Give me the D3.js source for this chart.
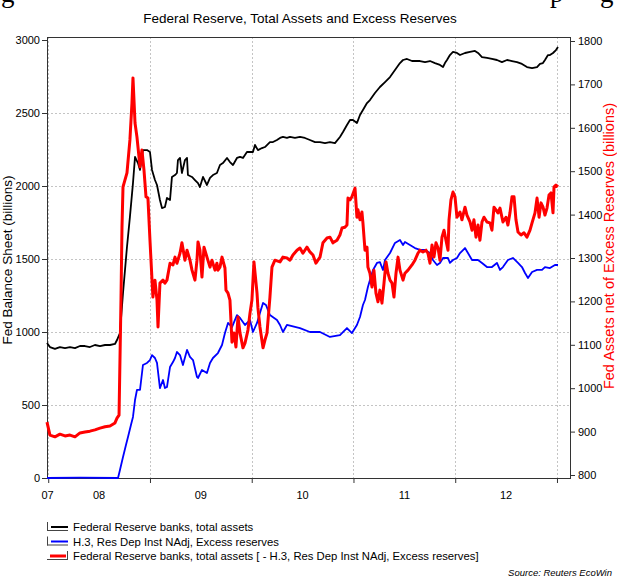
<!DOCTYPE html>
<html>
<head>
<meta charset="utf-8">
<script src="https://cdn.jsdelivr.net/npm/d3@7/dist/d3.min.js"></script>
<style>
  body { margin: 0; background: #fff; }
  text { font-family: "Liberation Sans", Arial, sans-serif; fill: #000; }
  .grid line { stroke: #c4c4c4; stroke-width: 1; stroke-dasharray: 2,2; }
  .axis line { stroke: #333; }
  .axis text { font-size: 11px; }
</style>
</head>
<body>
<div id="chart"></div>
<script>
// Data (time as decimal years, values in billions)
var totalAssets = [
  [2007.988, 925], [2008.017, 897], [2008.066, 884], [2008.115, 897], [2008.165, 890],
  [2008.214, 897], [2008.263, 890], [2008.312, 904], [2008.361, 904], [2008.410, 897],
  [2008.459, 911], [2008.509, 904], [2008.558, 911], [2008.607, 911], [2008.656, 918],
  [2008.676, 945], [2008.705, 993], [2008.735, 1267], [2008.774, 1582], [2008.803, 1788],
  [2008.833, 2020], [2008.853, 2199], [2008.882, 2157], [2008.902, 2110], [2008.931, 2246],
  [2008.971, 2246], [2009.000, 2233], [2009.020, 2110], [2009.049, 2041], [2009.069, 2007],
  [2009.098, 1904], [2009.118, 1849], [2009.147, 1856], [2009.167, 1918], [2009.197, 1904],
  [2009.216, 2062], [2009.246, 2075], [2009.265, 2089], [2009.275, 2178], [2009.295, 2192],
  [2009.314, 2089], [2009.344, 2178], [2009.364, 2192], [2009.373, 2075], [2009.413, 2062],
  [2009.442, 2041], [2009.472, 2020], [2009.491, 1993], [2009.521, 2062], [2009.560, 2007],
  [2009.590, 2055], [2009.619, 2075], [2009.658, 2089], [2009.688, 2144], [2009.717, 2157],
  [2009.757, 2192], [2009.786, 2164], [2009.816, 2144], [2009.855, 2192], [2009.885, 2199],
  [2009.914, 2192], [2009.953, 2233], [2009.983, 2233], [2010.012, 2233], [2010.032, 2281],
  [2010.061, 2246], [2010.101, 2260], [2010.130, 2267], [2010.179, 2301], [2010.209, 2301],
  [2010.248, 2315], [2010.278, 2329], [2010.307, 2336], [2010.346, 2329], [2010.376, 2336],
  [2010.425, 2329], [2010.474, 2336], [2010.523, 2329], [2010.572, 2315], [2010.622, 2301],
  [2010.671, 2301], [2010.720, 2294], [2010.769, 2301], [2010.818, 2294], [2010.867, 2336],
  [2010.897, 2370], [2010.936, 2418], [2010.966, 2452], [2010.995, 2452], [2011.034, 2431],
  [2011.064, 2486], [2011.093, 2520], [2011.133, 2568], [2011.162, 2589], [2011.211, 2637],
  [2011.260, 2678], [2011.310, 2712], [2011.359, 2746], [2011.408, 2794], [2011.457, 2842],
  [2011.487, 2863], [2011.526, 2870], [2011.575, 2856], [2011.654, 2856], [2011.703, 2849],
  [2011.752, 2856], [2011.801, 2842], [2011.850, 2829], [2011.880, 2815], [2011.899, 2842],
  [2011.919, 2863], [2011.948, 2897], [2011.978, 2918], [2012.017, 2911], [2012.047, 2897],
  [2012.096, 2911], [2012.145, 2918], [2012.194, 2925], [2012.224, 2911], [2012.263, 2883],
  [2012.312, 2877], [2012.361, 2870], [2012.410, 2863], [2012.459, 2849], [2012.509, 2863],
  [2012.558, 2856], [2012.607, 2849], [2012.656, 2836], [2012.705, 2815], [2012.755, 2808],
  [2012.804, 2815], [2012.833, 2836], [2012.862, 2842], [2012.882, 2863], [2012.912, 2897],
  [2012.931, 2897], [2012.961, 2911], [2012.990, 2931], [2013.010, 2952]
];

var excessReserves = [
  [2007.988, 0], [2008.312, 2], [2008.686, 0], [2008.705, 55], [2008.735, 144],
  [2008.764, 226], [2008.784, 281], [2008.813, 363], [2008.833, 418], [2008.853, 534],
  [2008.872, 603], [2008.902, 603], [2008.931, 774], [2008.971, 788], [2009.000, 808],
  [2009.020, 842], [2009.049, 822], [2009.069, 788], [2009.098, 616], [2009.128, 671],
  [2009.147, 616], [2009.167, 623], [2009.197, 760], [2009.226, 794], [2009.246, 822],
  [2009.265, 863], [2009.295, 842], [2009.324, 774], [2009.364, 877], [2009.393, 829],
  [2009.423, 808], [2009.462, 692], [2009.472, 685], [2009.511, 740], [2009.560, 719],
  [2009.590, 788], [2009.619, 822], [2009.668, 856], [2009.708, 911], [2009.737, 993],
  [2009.767, 1062], [2009.806, 1034], [2009.855, 1116], [2009.885, 1096], [2009.934, 1048],
  [2009.983, 1082], [2010.012, 1000], [2010.052, 1062], [2010.081, 1130], [2010.111, 1199],
  [2010.140, 1185], [2010.179, 1116], [2010.248, 1082], [2010.278, 1048], [2010.307, 1000],
  [2010.346, 1048], [2010.474, 1027], [2010.572, 1000], [2010.671, 1000], [2010.769, 966],
  [2010.867, 979], [2010.936, 1027], [2010.985, 993], [2011.034, 1048], [2011.064, 1103],
  [2011.093, 1185], [2011.113, 1219], [2011.142, 1308], [2011.162, 1356], [2011.192, 1425],
  [2011.231, 1473], [2011.260, 1479], [2011.290, 1425], [2011.310, 1493], [2011.359, 1541],
  [2011.408, 1610], [2011.457, 1630], [2011.487, 1596], [2011.506, 1616], [2011.555, 1596],
  [2011.604, 1575], [2011.654, 1562], [2011.703, 1562], [2011.752, 1541], [2011.781, 1493],
  [2011.821, 1459], [2011.850, 1473], [2011.880, 1507], [2011.929, 1507], [2011.948, 1473],
  [2011.978, 1493], [2012.017, 1507], [2012.047, 1541], [2012.096, 1575], [2012.125, 1541],
  [2012.165, 1493], [2012.224, 1493], [2012.263, 1473], [2012.312, 1445], [2012.361, 1445],
  [2012.410, 1473], [2012.440, 1425], [2012.469, 1445], [2012.518, 1493], [2012.567, 1507],
  [2012.617, 1473], [2012.656, 1445], [2012.686, 1404], [2012.715, 1370], [2012.755, 1411],
  [2012.804, 1425], [2012.853, 1425], [2012.882, 1445], [2012.931, 1438], [2012.980, 1459],
  [2013.010, 1459]
];

var netAssets = [
  [2007.988, 922], [2008.017, 892], [2008.066, 888], [2008.115, 894], [2008.165, 890],
  [2008.214, 892], [2008.263, 888], [2008.312, 897], [2008.361, 899], [2008.410, 901],
  [2008.459, 904], [2008.509, 908], [2008.558, 911], [2008.607, 913], [2008.656, 920],
  [2008.676, 931], [2008.696, 938], [2008.715, 1203], [2008.725, 1371], [2008.735, 1464],
  [2008.774, 1496], [2008.803, 1572], [2008.823, 1657], [2008.833, 1715], [2008.853, 1611],
  [2008.872, 1579], [2008.902, 1510], [2008.921, 1549], [2008.941, 1503], [2008.961, 1441],
  [2008.980, 1438], [2009.000, 1341], [2009.020, 1249], [2009.029, 1210], [2009.049, 1249],
  [2009.069, 1203], [2009.079, 1141], [2009.098, 1242], [2009.128, 1249], [2009.147, 1242],
  [2009.167, 1249], [2009.197, 1288], [2009.226, 1284], [2009.246, 1302], [2009.265, 1288],
  [2009.295, 1311], [2009.314, 1335], [2009.344, 1295], [2009.364, 1318], [2009.393, 1295],
  [2009.413, 1272], [2009.442, 1249], [2009.462, 1295], [2009.472, 1337], [2009.491, 1318],
  [2009.511, 1256], [2009.531, 1325], [2009.560, 1302], [2009.590, 1279], [2009.609, 1295],
  [2009.639, 1272], [2009.658, 1288], [2009.668, 1272], [2009.688, 1279], [2009.708, 1302],
  [2009.737, 1277], [2009.747, 1226], [2009.767, 1219], [2009.786, 1203], [2009.806, 1106],
  [2009.826, 1127], [2009.845, 1095], [2009.865, 1164], [2009.885, 1127], [2009.914, 1093],
  [2009.934, 1104], [2009.963, 1134], [2009.983, 1173], [2010.002, 1203], [2010.022, 1291],
  [2010.052, 1219], [2010.061, 1185], [2010.081, 1141], [2010.111, 1093], [2010.130, 1111],
  [2010.150, 1127], [2010.179, 1210], [2010.199, 1279], [2010.228, 1295], [2010.278, 1291],
  [2010.307, 1302], [2010.346, 1300], [2010.376, 1295], [2010.405, 1307], [2010.445, 1318],
  [2010.474, 1323], [2010.503, 1311], [2010.543, 1325], [2010.572, 1314], [2010.602, 1307],
  [2010.631, 1288], [2010.671, 1302], [2010.700, 1335], [2010.740, 1346], [2010.769, 1348],
  [2010.798, 1335], [2010.838, 1341], [2010.867, 1353], [2010.887, 1369], [2010.916, 1371],
  [2010.936, 1376], [2010.946, 1438], [2010.966, 1434], [2010.985, 1441], [2011.015, 1461],
  [2011.034, 1394], [2011.044, 1411], [2011.064, 1388], [2011.083, 1406], [2011.093, 1381],
  [2011.113, 1318], [2011.133, 1325], [2011.142, 1279], [2011.162, 1265], [2011.182, 1233],
  [2011.201, 1272], [2011.221, 1219], [2011.241, 1199], [2011.260, 1226], [2011.280, 1196],
  [2011.300, 1242], [2011.320, 1291], [2011.339, 1265], [2011.359, 1249], [2011.379, 1242],
  [2011.398, 1210], [2011.418, 1265], [2011.438, 1302], [2011.457, 1272], [2011.487, 1249],
  [2011.506, 1265], [2011.536, 1272], [2011.575, 1284], [2011.604, 1295], [2011.634, 1311],
  [2011.654, 1318], [2011.683, 1314], [2011.713, 1318], [2011.732, 1311], [2011.752, 1288],
  [2011.772, 1330], [2011.791, 1302], [2011.811, 1335], [2011.831, 1323], [2011.850, 1295],
  [2011.870, 1348], [2011.890, 1364], [2011.909, 1341], [2011.929, 1318], [2011.939, 1388],
  [2011.958, 1434], [2011.978, 1452], [2011.998, 1441], [2012.017, 1394], [2012.047, 1406],
  [2012.066, 1388], [2012.096, 1417], [2012.115, 1399], [2012.145, 1383], [2012.165, 1364],
  [2012.184, 1388], [2012.204, 1348], [2012.224, 1376], [2012.243, 1341], [2012.263, 1383],
  [2012.283, 1394], [2012.312, 1383], [2012.342, 1381], [2012.361, 1364], [2012.381, 1417],
  [2012.401, 1411], [2012.420, 1404], [2012.440, 1415], [2012.469, 1383], [2012.499, 1394],
  [2012.518, 1376], [2012.538, 1404], [2012.558, 1441], [2012.578, 1441], [2012.597, 1388],
  [2012.617, 1360], [2012.647, 1353], [2012.676, 1358], [2012.705, 1348], [2012.735, 1364],
  [2012.755, 1381], [2012.784, 1404], [2012.804, 1438], [2012.824, 1394], [2012.843, 1427],
  [2012.863, 1417], [2012.882, 1399], [2012.902, 1415], [2012.922, 1445], [2012.941, 1450],
  [2012.961, 1404], [2012.971, 1464], [2012.990, 1468], [2013.010, 1464]
];

var leftTicks = [0, 500, 1000, 1500, 2000, 2500, 3000];
var rightTicks = [800, 900, 1000, 1100, 1200, 1300, 1400, 1500, 1600, 1700, 1800];
var yearTicks = [2008, 2009, 2010, 2011, 2012, 2013];
var yearLabels = ["07", "08", "09", "10", "11", "12"];
var legendLabels = [
  "Federal Reserve banks, total assets",
  "H.3, Res Dep Inst NAdj, Excess reserves",
  "Federal Reserve banks, total assets [ - H.3, Res Dep Inst NAdj, Excess reserves]"
];
var legendColors = ["#000000", "#0000ff", "#ff0000"];

var svgWidth = 617;
var svgHeight = 577;

var plot = { left: 47, right: 570, top: 37, bottom: 478 };

var svg = d3.select("#chart")
  .append("svg")
  .attr("width", svgWidth)
  .attr("height", svgHeight);

// Scales
var xScale = d3.scaleLinear()
  .domain([2007.988, 2013.128])
  .range([plot.left, plot.right]);

var yLeft = d3.scaleLinear()
  .domain([0, 3000])
  .range([478, 40]);

var yRight = d3.scaleLinear()
  .domain([800, 1800])
  .range([475, 41]);

// Cropped heading of the page above the chart (only descenders show)
svg.append("g")
  .selectAll("text")
  .data([["g", 1], ["p", 550], ["g", 600]])
  .enter()
  .append("text")
  .attr("x", d => d[1])
  .attr("y", 2)
  .style("font-family", "'Liberation Serif', 'Times New Roman', serif")
  .style("font-size", "27px")
  .text(d => d[0]);

// Title
svg.append("text")
  .attr("x", 300)
  .attr("y", 23)
  .attr("text-anchor", "middle")
  .style("font-size", "13.5px")
  .text("Federal Reserve, Total Assets and Excess Reserves");

// Gridlines
var grid = svg.append("g").attr("class", "grid");

grid.selectAll(".hgrid")
  .data(leftTicks.filter(d => d > 0 && d < 3000))
  .enter()
  .append("line")
  .attr("x1", plot.left)
  .attr("x2", plot.right)
  .attr("y1", d => yLeft(d) + 0.5)
  .attr("y2", d => yLeft(d) + 0.5);

grid.selectAll(".vgrid")
  .data(yearTicks)
  .enter()
  .append("line")
  .attr("x1", d => Math.round(xScale(d)) + 0.5)
  .attr("x2", d => Math.round(xScale(d)) + 0.5)
  .attr("y1", plot.top)
  .attr("y2", plot.bottom);

// Axes
var leftAxis = d3.axisLeft(yLeft)
  .tickValues(leftTicks)
  .tickFormat(d3.format("d"))
  .tickSize(5)
  .tickSizeOuter(0)
  .tickPadding(2);

var rightAxis = d3.axisRight(yRight)
  .tickValues(rightTicks)
  .tickFormat(d3.format("d"))
  .tickSize(5)
  .tickSizeOuter(0)
  .tickPadding(3);

var bottomAxis = d3.axisBottom(xScale)
  .tickValues(yearTicks)
  .tickFormat("")
  .tickSize(5)
  .tickSizeOuter(0);

svg.append("g")
  .attr("class", "axis")
  .attr("transform", `translate(${plot.left}, 0)`)
  .call(leftAxis)
  .call(g => g.select(".domain").remove());

svg.append("g")
  .attr("class", "axis")
  .attr("transform", `translate(${plot.right}, 0)`)
  .call(rightAxis)
  .call(g => g.select(".domain").remove());

svg.append("g")
  .attr("class", "axis")
  .attr("transform", `translate(0, ${plot.bottom})`)
  .call(bottomAxis)
  .call(g => g.select(".domain").remove());

// Frame
svg.append("rect")
  .attr("x", plot.left + 0.5)
  .attr("y", plot.top + 0.5)
  .attr("width", plot.right - plot.left)
  .attr("height", plot.bottom - plot.top)
  .attr("fill", "none")
  .attr("stroke", "#333")
  .attr("stroke-width", 1);

// Year labels, centred in each year's visible span
var labelPos = yearLabels.map(function(lab, i) {
  var start = i === 0 ? xScale.domain()[0] : yearTicks[i - 1];
  return [lab, (start + yearTicks[i]) / 2];
});

svg.append("g")
  .selectAll("text")
  .data(labelPos)
  .enter()
  .append("text")
  .attr("x", d => xScale(d[1]))
  .attr("y", 499)
  .attr("text-anchor", "middle")
  .style("font-size", "11px")
  .text(d => d[0]);

// Axis titles
svg.append("text")
  .attr("transform", "translate(12, 260) rotate(-90)")
  .attr("text-anchor", "middle")
  .style("font-size", "13.5px")
  .text("Fed Balance Sheet (billions)");

svg.append("text")
  .attr("transform", "translate(614, 246) rotate(-90)")
  .attr("text-anchor", "middle")
  .style("font-size", "14.5px")
  .style("fill", "#ff0000")
  .text("Fed Assets net of Excess Reserves (billions)");

// Lines
var lineLeft = d3.line()
  .x(d => xScale(d[0]))
  .y(d => yLeft(d[1]));

var lineRight = d3.line()
  .x(d => xScale(d[0]))
  .y(d => yRight(d[1]));

svg.append("path")
  .datum(totalAssets)
  .attr("fill", "none")
  .attr("stroke", "#000")
  .attr("stroke-width", 1.8)
  .attr("stroke-linejoin", "round")
  .attr("d", lineLeft);

svg.append("path")
  .datum(excessReserves)
  .attr("fill", "none")
  .attr("stroke", "#0000ff")
  .attr("stroke-width", 1.8)
  .attr("stroke-linejoin", "round")
  .attr("d", lineLeft);

svg.append("path")
  .datum(netAssets)
  .attr("fill", "none")
  .attr("stroke", "#ff0000")
  .attr("stroke-width", 3)
  .attr("stroke-linejoin", "round")
  .attr("d", lineRight);

// Legend
var legend = svg.append("g");
var rowY = [527, 541.5, 556];

legendLabels.forEach(function(label, i) {
  var y = rowY[i];
  var row = legend.append("g");
  var onRight = i === 2;

  // axis marker: vertical on the side of the axis used, plus a bottom edge
  row.append("line")
    .attr("x1", onRight ? 67.5 : 47.5)
    .attr("x2", onRight ? 67.5 : 47.5)
    .attr("y1", y - 5)
    .attr("y2", y + 4)
    .attr("stroke", "#444");
  row.append("line")
    .attr("x1", 47)
    .attr("x2", 68)
    .attr("y1", y + 3.5)
    .attr("y2", y + 3.5)
    .attr("stroke", "#444");
  row.append("line")
    .attr("x1", onRight ? 50 : 51)
    .attr("x2", onRight ? 66 : 68)
    .attr("y1", y)
    .attr("y2", y)
    .attr("stroke", legendColors[i])
    .attr("stroke-width", onRight ? 3 : 2);

  row.append("text")
    .attr("x", 73)
    .attr("y", y + 4)
    .style("font-size", "11.3px")
    .text(label);
});

// Source
svg.append("text")
  .attr("x", 612)
  .attr("y", 576)
  .attr("text-anchor", "end")
  .style("font-size", "9.5px")
  .style("font-style", "italic")
  .text("Source: Reuters EcoWin");
</script>
</body>
</html>
